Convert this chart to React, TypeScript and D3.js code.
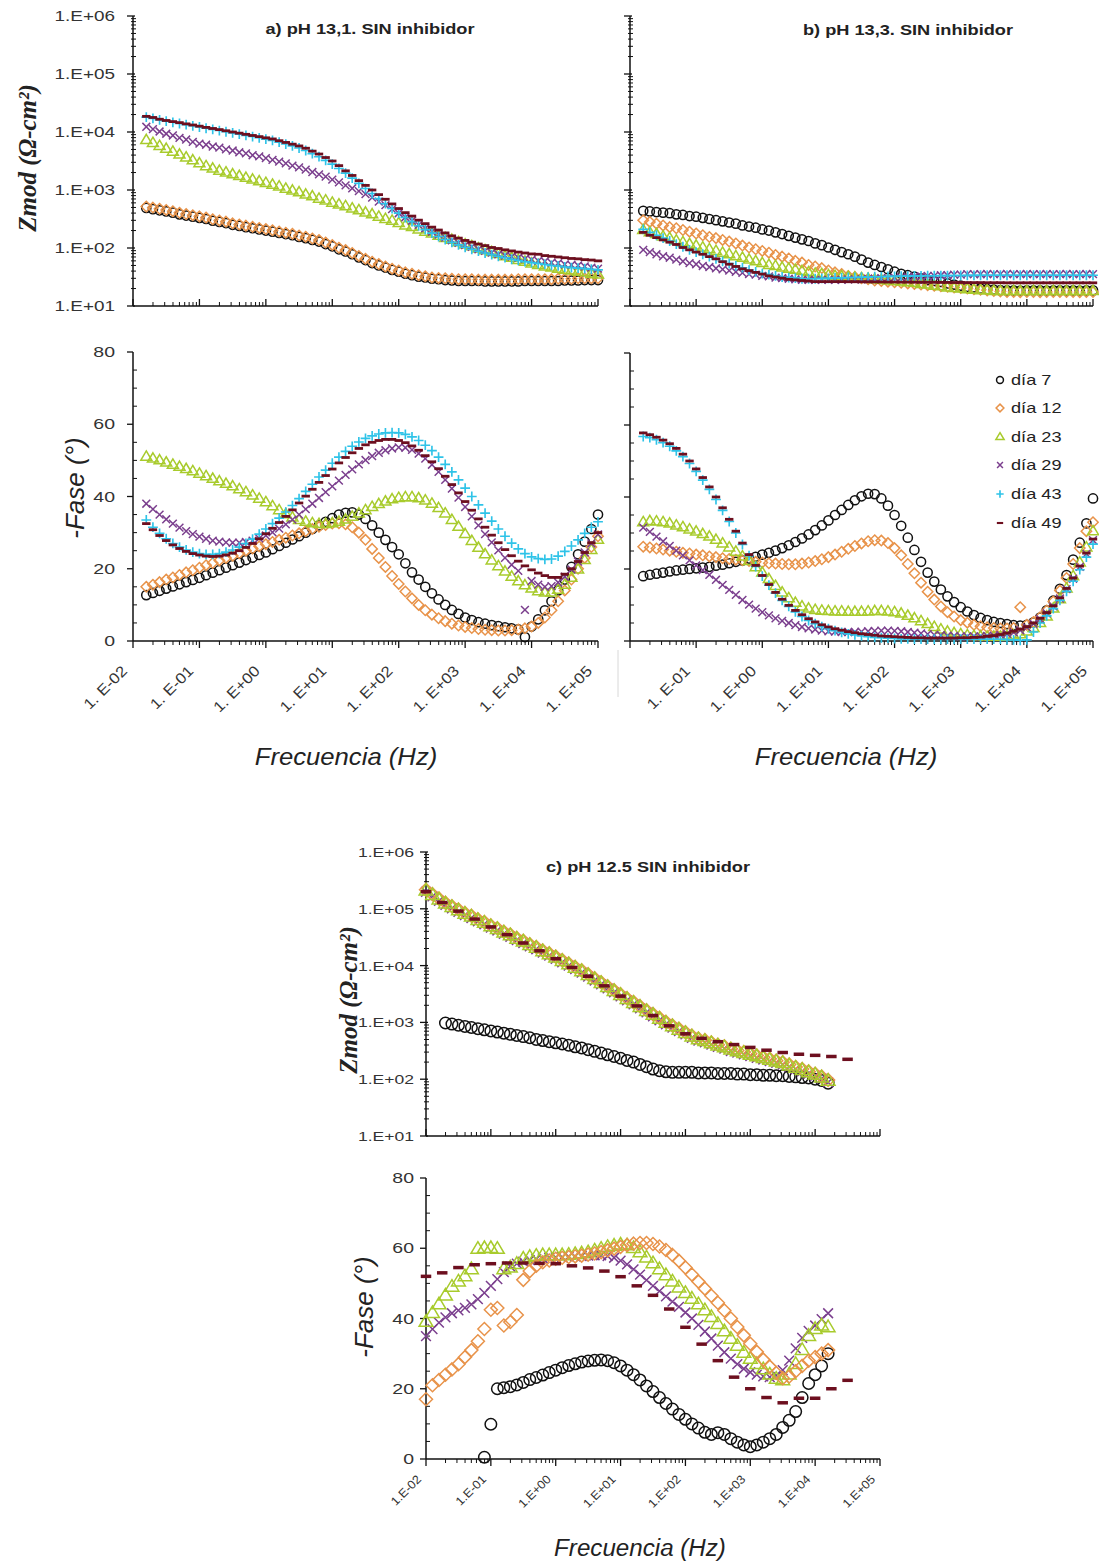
import React from "react";
import * as d3 from "d3";

// ---------------- frequency grids (log10 of frequency in Hz) ----------------
const logFreqAB = [
  -1.8, -1.7, -1.6, -1.5, -1.4, -1.3, -1.2, -1.1, -1.0, -0.9,
  -0.8, -0.7, -0.6, -0.5, -0.4, -0.3, -0.2, -0.1, 0.0, 0.1,
  0.2, 0.3, 0.4, 0.5, 0.6, 0.7, 0.8, 0.9, 1.0, 1.1,
  1.2, 1.3, 1.4, 1.5, 1.6, 1.7, 1.8, 1.9, 2.0, 2.1,
  2.2, 2.3, 2.4, 2.5, 2.6, 2.7, 2.8, 2.9, 3.0, 3.1,
  3.2, 3.3, 3.4, 3.5, 3.6, 3.7, 3.8, 3.9, 4.0, 4.1,
  4.2, 4.3, 4.4, 4.5, 4.6, 4.7, 4.8, 4.9, 5.0,
];
const logFreqC = [
  -2.0, -1.9, -1.8, -1.7, -1.6, -1.5, -1.4, -1.3, -1.2, -1.1,
  -1.0, -0.9, -0.8, -0.7, -0.6, -0.5, -0.4, -0.3, -0.2, -0.1,
  0.0, 0.1, 0.2, 0.3, 0.4, 0.5, 0.6, 0.7, 0.8, 0.9,
  1.0, 1.1, 1.2, 1.3, 1.4, 1.5, 1.6, 1.7, 1.8, 1.9,
  2.0, 2.1, 2.2, 2.3, 2.4, 2.5, 2.6, 2.7, 2.8, 2.9,
  3.0, 3.1, 3.2, 3.3, 3.4, 3.5, 3.6, 3.7, 3.8, 3.9,
  4.0, 4.1, 4.2, 4.3, 4.4, 4.5,
];
const logFreqC49 = [
  -2.0, -1.75, -1.5, -1.25, -1.0, -0.75, -0.5, -0.25, 0.0, 0.25,
  0.5, 0.75, 1.0, 1.25, 1.5, 1.75, 2.0, 2.25, 2.5, 2.75,
  3.0, 3.25, 3.5, 3.75, 4.0, 4.25, 4.5,
];

const days = ["día 7", "día 12", "día 23", "día 29", "día 43", "día 49"];

// ---------------- a) pH 13,1 : Zmod (ohm·cm2) ----------------
const zA7 = [
  490, 468, 447, 427, 407, 380, 363, 347, 331, 316,
  295, 282, 269, 251, 240, 229, 219, 209, 200, 191,
  182, 174, 166, 155, 148, 138, 129, 117, 107, 95,
  87, 78, 69, 62, 55, 50, 46, 42, 39, 36,
  34, 32, 31, 29.5, 29, 28, 27.5, 27, 27, 27,
  27, 26.5, 26.5, 26.5, 26.5, 26.5, 26.5, 27, 27, 27,
  27, 27, 27, 27.5, 27.5, 27.5, 28, 28, 28,
];
const zA12 = [
  520, 497, 475, 453, 432, 404, 385, 368, 351, 335,
  313, 299, 285, 266, 254, 243, 232, 222, 212, 202,
  193, 184, 176, 164, 157, 146, 137, 124, 113, 101,
  92, 82, 73, 65, 58, 53, 48, 44, 41, 38,
  36, 34, 32.5, 31, 30.5, 30, 29.5, 29, 29, 29,
  28.5, 28.5, 28.5, 28.5, 28.5, 28.5, 29, 29, 29, 29,
  29, 29, 29.5, 29.5, 29.5, 30, 30, 30, 30,
];
const zA23 = [
  7240, 6460, 5750, 5130, 4570, 4070, 3630, 3240, 2880, 2570,
  2340, 2140, 2000, 1860, 1740, 1620, 1510, 1410, 1320, 1230,
  1150, 1050, 977, 912, 832, 776, 708, 661, 603, 562,
  525, 479, 447, 407, 380, 347, 316, 295, 269, 245,
  229, 209, 191, 178, 162, 148, 138, 126, 115, 107,
  98, 91, 85, 79, 72, 68, 62, 58, 54, 51,
  48, 46, 44, 42, 41, 39, 38, 36, 35,
];
const zA29 = [
  12300, 11200, 10200, 9330, 8710, 7940, 7410, 6760, 6310, 6030,
  5620, 5370, 5010, 4790, 4470, 4270, 3980, 3800, 3550, 3310,
  3090, 2880, 2630, 2450, 2240, 2040, 1860, 1700, 1510, 1350,
  1200, 1070, 955, 851, 741, 631, 550, 468, 398, 339,
  295, 251, 219, 191, 170, 151, 135, 123, 112, 105,
  95, 89, 83, 78, 74, 71, 68, 65, 63, 60,
  59, 56, 55, 52, 51, 50, 48, 46, 44,
];
const zA43 = [
  18000, 17200, 16200, 15400, 14700, 14000, 13400, 12800, 12200, 11600,
  11100, 10600, 10100, 9650, 9200, 8750, 8350, 7950, 7550, 7150,
  6700, 6200, 5750, 5300, 4800, 4250, 3750, 3250, 2800, 2350,
  1950, 1600, 1300, 1060, 870, 710, 580, 480, 400, 335,
  285, 242, 208, 180, 158, 140, 125, 113, 103, 95,
  88, 82, 77, 72, 68, 64, 61, 58, 56, 54,
  52, 50, 49, 47, 46, 45, 44, 43, 42,
];
const zA49 = [
  18600, 17800, 16600, 15800, 15100, 14500, 13800, 13200, 12600, 12000,
  11500, 11000, 10500, 10000, 9550, 9120, 8710, 8320, 7940, 7590,
  7080, 6610, 6170, 5750, 5250, 4680, 4170, 3630, 3160, 2630,
  2140, 1780, 1450, 1200, 1000, 832, 692, 575, 479, 407,
  355, 302, 263, 229, 204, 182, 162, 148, 135, 126,
  117, 110, 102, 98, 93, 89, 85, 82, 79, 78,
  74, 72, 70, 68, 66, 65, 63, 62, 60,
];

// ---------------- a) pH 13,1 : -Fase (deg) ----------------
const pA7 = [
  12.7, 13.3, 13.9, 14.5, 15.1, 15.7, 16.3, 16.9, 17.5, 18.2,
  18.9, 19.6, 20.3, 21.0, 21.7, 22.4, 23.1, 23.8, 24.5, 25.4,
  26.3, 27.2, 28.1, 29.0, 30.0, 31.0, 32.0, 33.0, 34.0, 35.0,
  35.5, 35.6, 35.0, 33.8, 32.0, 30.0, 28.0, 26.0, 24.0, 21.5,
  19.0, 17.0, 15.0, 13.2, 11.5, 10.0, 8.6, 7.5, 6.5, 5.8,
  5.2, 4.8, 4.4, 4.1, 3.8, 3.5, 3.2, 1.1, 4.0, 6.0,
  8.5, 11.0, 14.0, 17.0, 20.5, 24.0, 27.5, 31.0, 35.0,
];
const pA12 = [
  15.0, 15.6, 16.3, 17.0, 17.6, 18.3, 19.0, 19.6, 20.3, 21.0,
  21.6, 22.3, 23.0, 23.6, 24.3, 25.0, 25.6, 26.2, 26.8, 27.4,
  28.0, 28.6, 29.2, 29.8, 30.4, 31.0, 31.6, 32.1, 32.5, 32.6,
  32.3, 31.5, 30.0, 28.0, 25.5, 23.0, 20.5, 18.0, 15.8, 13.7,
  11.8, 10.0, 8.5, 7.3, 6.3, 5.5, 4.8, 4.3, 3.9, 3.6,
  3.3, 3.1, 3.0, 2.9, 2.9, 3.0, 3.2, 3.5, 4.0, 5.0,
  6.5, 8.5, 11.0, 14.0, 17.0, 20.0, 23.0, 26.0, 29.0,
];
const pA23 = [
  51.0, 50.5, 50.0, 49.4, 48.8, 48.2, 47.6, 47.0, 46.3, 45.6,
  44.9, 44.2, 43.5, 42.8, 42.0, 41.2, 40.3, 39.4, 38.4, 37.3,
  36.2, 35.1, 34.2, 33.5, 33.0, 32.6, 32.4, 32.4, 32.6, 33.0,
  33.6, 34.4, 35.3, 36.2, 37.1, 37.9, 38.6, 39.2, 39.6, 39.8,
  39.8, 39.5, 38.9, 38.0, 36.8, 35.3, 33.5, 31.6, 29.6, 27.7,
  25.8, 24.0, 22.3, 20.7, 19.2, 17.8, 16.5, 15.4, 14.5, 13.8,
  13.4, 13.4, 14.2, 15.6, 17.5, 19.8, 22.4, 25.2, 28.0,
];
const pA29 = [
  38.0, 36.5, 35.0, 33.7, 32.5, 31.4, 30.4, 29.6, 28.9, 28.3,
  27.8, 27.5, 27.3, 27.2, 27.2, 27.4, 27.8, 28.4, 29.2, 30.1,
  31.1, 32.3, 33.6, 35.0, 36.5, 38.0, 39.6, 41.2, 42.8, 44.4,
  46.0, 47.5, 48.9, 50.1, 51.2, 52.1, 52.8, 53.3, 53.6, 53.5,
  52.9, 51.9, 50.5, 48.8, 46.8, 44.6, 42.2, 39.7, 37.1, 34.5,
  32.0, 29.6, 27.3, 25.1, 23.0, 21.1, 19.4, 8.6, 16.6, 15.6,
  15.0, 15.2, 16.2, 17.8, 19.8, 22.0, 24.5, 27.0, 29.5,
];
const pA43 = [
  33.5, 31.5, 29.8, 28.3, 27.0, 26.0, 25.2, 24.6, 24.2, 24.0,
  24.0, 24.2, 24.6, 25.2, 26.0, 27.0, 28.2, 29.6, 31.0, 32.5,
  34.0, 35.7, 37.5, 39.4, 41.4, 43.4, 45.4, 47.3, 49.2, 50.9,
  52.5, 53.9, 55.1, 56.1, 56.8, 57.3, 57.6, 57.7, 57.6, 57.2,
  56.5, 55.5, 54.2, 52.7, 50.9, 48.9, 46.8, 44.6, 42.3, 40.0,
  37.7, 35.4, 33.2, 31.0, 29.0, 27.1, 25.5, 24.2, 23.3, 22.8,
  22.6, 22.7, 23.5, 24.8, 26.3, 28.0, 29.8, 31.5, 33.0,
];
const pA49 = [
  32.5, 30.8, 29.2, 27.8, 26.6, 25.6, 24.8, 24.2, 23.8, 23.5,
  23.4, 23.5, 23.8, 24.3, 25.0, 25.9, 27.0, 28.3, 29.7, 31.2,
  32.8, 34.5, 36.3, 38.2, 40.1, 42.0, 43.9, 45.8, 47.6, 49.3,
  50.8, 52.1, 53.3, 54.3, 55.0, 55.5, 55.8, 55.8, 55.5, 54.9,
  54.0, 52.8, 51.3, 49.6, 47.7, 45.6, 43.3, 41.0, 38.6, 36.2,
  33.8, 31.5, 29.3, 27.2, 25.3, 23.6, 22.1, 20.8, 19.7, 18.8,
  18.1, 17.6, 17.6, 18.5, 20.0, 22.0, 24.5, 27.2, 30.0,
];

// ---------------- b) pH 13,3 : Zmod ----------------
const zB7 = [
  437, 427, 417, 407, 398, 380, 372, 355, 347, 331,
  316, 302, 288, 275, 263, 245, 234, 224, 209, 200,
  186, 174, 162, 151, 141, 132, 120, 112, 102, 93,
  85, 78, 71, 63, 56, 51, 47, 43, 39, 36,
  34, 32, 30, 28, 27, 26, 24.5, 23.4, 22.4, 21.4,
  20.9, 20, 19.5, 19.1, 18.8, 18.6, 18.6, 18.5, 18.6, 18.7,
  18.6, 18.5, 18.6, 18.7, 18.6, 18.6, 18.5, 18.6, 18.6,
];
const zB12 = [
  302, 282, 263, 245, 229, 219, 204, 191, 178, 166,
  155, 148, 138, 129, 120, 110, 102, 95, 89, 83,
  76, 71, 66, 60, 56, 51, 48, 45, 41, 38,
  35.5, 33, 31.6, 30.2, 28.8, 27.5, 26.9, 26.3, 25.7, 25.1,
  24.5, 24, 23.4, 22.9, 22.4, 21.9, 21.4, 20.9, 20.4, 20,
  19.5, 19.1, 18.6, 18.2, 17.8, 17.4, 17.4, 17.3, 17.4, 17.4,
  17.3, 17.4, 17.4, 17.5, 17.4, 17.4, 17.3, 17.4, 17.4,
];
const zB23 = [
  204, 186, 174, 158, 148, 135, 126, 117, 110, 102,
  95, 89, 83, 78, 72, 68, 63, 59, 55, 51,
  49, 46, 44, 42, 40, 38, 36, 35.5, 34, 33,
  32.4, 31.6, 30.9, 30.2, 29.5, 28.8, 28.2, 27.5, 26.9, 26.3,
  25.7, 25.1, 24, 23.4, 22.4, 21.9, 20.9, 20.4, 20, 19.5,
  19.1, 18.6, 18.6, 18.2, 18.2, 18.2, 18.2, 18.1, 18.2, 18.2,
  18.2, 18.1, 18.2, 18.2, 18.2, 18.1, 18.2, 18.2, 18.2,
];
const zB29 = [
  93, 85, 78, 72, 68, 63, 59, 55, 52.5, 49,
  47, 44.7, 42.7, 40.7, 38.9, 37.2, 35.5, 34.7, 33.1, 32.4,
  30.9, 30.2, 29.5, 28.8, 28.2, 28.2, 28.2, 28.2, 28.2, 28.2,
  28.2, 28.8, 28.8, 28.8, 29.5, 29.5, 30.2, 30.2, 30.9, 30.9,
  31.6, 32.4, 32.4, 33.1, 33.1, 33.9, 33.9, 34.7, 34.7, 35.5,
  35.5, 35.3, 35.6, 35.4, 35.5, 35.7, 35.4, 35.5, 35.6, 35.4,
  35.5, 35.6, 35.4, 35.5, 35.7, 35.5, 35.4, 35.6, 35.5,
];
const zB43 = [
  209, 186, 166, 148, 132, 117, 105, 93, 85, 78,
  71, 65, 59, 54, 49, 45.7, 41.7, 38.9, 36.3, 34.7,
  33.1, 31.6, 30.9, 30.2, 29.5, 29.5, 29.5, 30, 30, 30.5,
  30.5, 31, 31, 31.5, 31.5, 32, 32, 32.4, 32.4, 32.7,
  32.7, 33, 33, 33.2, 33.2, 33.4, 33.4, 33.6, 33.6, 33.8,
  33.8, 33.9, 33.9, 33.9, 33.9, 33.9, 33.9, 33.9, 33.9, 33.9,
  33.9, 33.9, 33.9, 33.9, 33.9, 33.9, 33.9, 33.9, 33.9,
];
const zB49 = [
  186, 166, 151, 138, 126, 115, 102, 93, 85, 78,
  71, 65, 58, 52.5, 48, 43.7, 40.7, 38, 35.5, 33.1,
  31.6, 30.2, 28.8, 28.2, 27.5, 26.9, 26.3, 26.3, 26.3, 26.3,
  26.3, 26.2, 26.2, 26.1, 26.1, 26, 26, 25.9, 25.9, 25.8,
  25.8, 25.7, 25.7, 25.6, 25.6, 25.5, 25.5, 25.4, 25.4, 25.3,
  25.3, 25.3, 25.2, 25.2, 25.2, 25.1, 25.1, 25.1, 25.1, 25.1,
  25.1, 25.1, 25.1, 25.1, 25.1, 25.1, 25.1, 25.1, 25.1,
];

// ---------------- b) pH 13,3 : -Fase ----------------
const pB7 = [
  18.0, 18.4, 18.7, 19.0, 19.3, 19.6, 19.8, 20.0, 20.2, 20.4,
  20.6, 20.9, 21.2, 21.6, 22.0, 22.4, 22.9, 23.4, 24.0, 24.5,
  25.1, 25.8, 26.6, 27.5, 28.5, 29.6, 30.8, 32.1, 33.5, 35.0,
  36.4, 37.8, 39.1, 40.2, 40.9, 40.8, 39.6, 37.6, 35.0, 32.0,
  28.7, 25.3, 22.0, 19.0, 16.5, 14.3, 12.4, 10.8, 9.4, 8.2,
  7.2, 6.4, 5.8, 5.3, 5.0, 4.7, 4.4, 4.3, 4.5, 5.2,
  6.5, 8.5, 11.2, 14.5, 18.3, 22.6, 27.3, 32.7, 39.6,
];
const pB12 = [
  26.2, 26.0, 25.7, 25.4, 25.1, 24.8, 24.5, 24.3, 24.0, 23.8,
  23.5, 23.3, 23.0, 22.8, 22.6, 22.4, 22.2, 22.0, 21.8, 21.6,
  21.5, 21.4, 21.3, 21.3, 21.5, 21.8, 22.2, 22.7, 23.3, 24.0,
  24.8, 25.6, 26.4, 27.1, 27.7, 28.0, 27.9, 27.2, 25.8, 23.8,
  21.4, 18.8, 16.2, 13.7, 11.5, 9.6, 8.0, 6.8, 5.8, 5.1,
  4.5, 4.1, 3.8, 3.6, 3.5, 3.5, 3.6, 9.4, 4.5, 5.3,
  6.6, 8.5, 11.0, 14.0, 17.5, 21.4, 25.8, 30.5, 33.0,
];
const pB23 = [
  33.0, 33.3, 33.2, 33.0, 32.6, 32.1, 31.6, 31.0, 30.4, 29.7,
  29.0, 28.1, 27.1, 26.0, 24.8, 23.5, 22.2, 20.5, 19.0, 17.2,
  15.3, 13.5, 11.9, 10.6, 9.6, 9.0, 8.6, 8.4, 8.3, 8.2,
  8.2, 8.1, 8.1, 8.1, 8.2, 8.3, 8.3, 8.2, 8.0, 7.6,
  7.0, 6.3, 5.5, 4.7, 3.9, 3.2, 2.6, 2.2, 1.9, 1.6,
  1.4, 1.3, 1.2, 1.2, 1.2, 1.3, 1.5, 1.9, 2.6, 3.6,
  5.0, 6.8, 9.0, 11.6, 14.6, 18.0, 21.8, 26.0, 30.5,
];
const pB29 = [
  31.5, 30.3, 29.0, 27.7, 26.4, 25.1, 23.8, 22.4, 21.0, 19.7,
  18.4, 17.0, 15.6, 14.2, 12.8, 11.4, 10.1, 9.0, 8.0, 7.1,
  6.3, 5.6, 5.0, 4.4, 3.9, 3.5, 3.2, 2.9, 2.7, 2.6,
  2.5, 2.5, 2.5, 2.6, 2.7, 2.8, 2.9, 2.9, 2.8, 2.7,
  2.5, 2.3, 2.1, 1.9, 1.7, 1.6, 1.5, 1.4, 1.3, 1.3,
  1.3, 1.3, 1.4, 1.5, 1.7, 2.0, 2.4, 3.0, 3.8, 4.8,
  6.1, 7.7, 9.6, 11.8, 14.4, 17.3, 20.6, 24.2, 28.0,
];
const pB43 = [
  56.8, 56.5, 55.9, 55.1, 54.1, 52.8, 51.2, 49.3, 47.1, 44.7,
  42.1, 39.3, 36.3, 33.2, 30.0, 26.8, 23.7, 20.7, 18.0, 15.5,
  13.3, 11.3, 9.6, 8.1, 6.8, 5.7, 4.8, 4.0, 3.4, 2.9,
  2.4, 2.0, 1.7, 1.4, 1.2, 1.0, 0.9, 0.8, 0.7, 0.6,
  0.6, 0.5, 0.5, 0.5, 0.5, 0.5, 0.5, 0.5, 0.5, 0.5,
  0.5, 0.5, 0.5, 0.5, 0.5, 0.4, 0.3, 0.2, 0.3, 2.5,
  5.0, 7.0, 9.0, 11.3, 13.8, 16.6, 19.8, 23.3, 26.9,
];
const pB49 = [
  57.8, 57.3, 56.6, 55.8, 54.8, 53.5, 51.9, 50.0, 47.8, 45.4,
  42.8, 40.0, 37.0, 33.8, 30.5, 27.2, 24.0, 21.0, 18.2, 15.7,
  13.5, 11.6, 9.9, 8.5, 7.3, 6.2, 5.3, 4.5, 3.9, 3.4,
  3.0, 2.6, 2.3, 2.0, 1.8, 1.6, 1.4, 1.3, 1.2, 1.1,
  1.0, 0.9, 0.9, 0.8, 0.8, 0.8, 0.8, 0.8, 0.9, 0.9,
  1.0, 1.1, 1.3, 1.5, 1.8, 2.2, 2.7, 3.3, 4.0, 5.0,
  6.3, 7.9, 9.8, 12.0, 14.6, 17.5, 20.8, 24.4, 28.3,
];

// ---------------- c) pH 12.5 : Zmod ----------------
const zC7 = [
  null, null, null, 977, 933, 891, 851, 813, 776, 741,
  708, 676, 646, 617, 589, 562, 537, 501, 479, 457,
  437, 417, 398, 372, 355, 331, 309, 288, 269, 251,
  234, 214, 200, 182, 166, 151, 141, 135, 132, 132,
  132, 132, 129, 129, 129, 126, 126, 126, 123, 123,
  120, 120, 117, 117, 115, 115, 112, 110, 107, 105,
  100, 95, 85, null, null, null,
];
const zC12 = [
  216000, 181000, 151000, 128000, 111000, 97000, 84500, 75300, 65600, 58400,
  51000, 45400, 39500, 35300, 30700, 27400, 23800, 21200, 18500, 16400,
  14400, 12500, 10900, 9480, 8260, 7030, 5980, 5100, 4340, 3690,
  3140, 2670, 2280, 1930, 1640, 1400, 1200, 1020, 885, 770,
  672, 584, 521, 487, 444, 405, 378, 344, 321, 300,
  280, 261, 243, 228, 212, 199, 181, 164, 151, 137,
  125, 111, 97, null, null, null,
];
const zC23 = [
  209000, 174000, 145000, 123000, 107000, 93300, 81300, 72400, 63100, 56200,
  49000, 43700, 38000, 33900, 29500, 26300, 22900, 20400, 17800, 15800,
  13800, 12000, 10500, 9120, 7940, 6760, 5750, 4900, 4170, 3550,
  3020, 2570, 2190, 1860, 1580, 1350, 1150, 977, 851, 741,
  646, 562, 501, 468, 427, 389, 363, 331, 309, 288,
  269, 251, 234, 219, 204, 191, 174, 158, 145, 132,
  120, 107, 93, null, null, null,
];
const zC29 = [
  199000, 165000, 138000, 117000, 102000, 88600, 77200, 68800, 59900, 53400,
  46600, 41500, 36100, 32200, 28000, 25000, 21800, 19400, 16900, 15000,
  13100, 11400, 9980, 8660, 7540, 6420, 5460, 4660, 3960, 3370,
  2870, 2440, 2080, 1770, 1500, 1280, 1090, 928, 808, 704,
  614, 534, 476, 445, 406, 370, 345, 314, 294, 274,
  256, 238, 222, 208, 194, 181, 165, 150, 138, 125,
  114, 102, 88, null, null, null,
];
const zC49 = [
  200000, 129000, 91000, 66000, 48000, 35000, 25000, 18200, 13200, 9300,
  6500, 4400, 2900, 1950, 1320, 870, 630, 525, 457, 407,
  363, 324, 295, 275, 263, 251, 224,
];

// ---------------- c) pH 12.5 : -Fase ----------------
const pC7 = [
  null, null, null, null, null, null, null, null, null, 0.5,
  9.9, 20.0, 20.3, 20.6, 21.1, 21.8, 22.6, 23.2, 23.9, 24.6,
  25.3, 26.0, 26.6, 27.1, 27.6, 27.9, 28.1, 28.2, 28.0, 27.4,
  26.5, 25.3, 24.0, 22.5, 20.8, 19.2, 17.5, 15.8, 14.2, 12.7,
  11.3, 10.0, 8.8, 7.6, 7.0, 7.5, 7.0, 5.8, 4.8, 4.0,
  3.5, 4.0, 4.8, 5.8, 7.0, 9.0, 11.0, 13.5, 17.5, 21.5,
  24.0, 26.5, 30.0, null, null, null,
];
const pC12 = [
  17.0, 21.0, 22.5, 24.0, 25.5, 27.0, 29.0, 31.0, 33.5, 37.0,
  42.5, 43.0, 38.0, 39.0, 41.0, 51.0, 53.5, 55.0, 56.0, 56.5,
  57.0, 57.3, 57.5, 57.7, 57.9, 58.2, 58.5, 58.9, 59.4, 59.9,
  60.4, 60.9, 61.3, 61.5, 61.5, 61.2, 60.5, 59.5, 58.1, 56.4,
  54.5, 52.5, 50.5, 48.5, 46.5, 44.5, 42.3, 40.0, 37.6, 35.2,
  32.8, 30.5, 28.3, 26.3, 24.5, 23.0, 23.5, 25.0, 26.5, 28.0,
  29.0, 30.0, 31.0, null, null, null,
];
const pC23 = [
  39.0, 41.5, 44.0, 46.5, 49.0, 50.5, 52.0, 54.0, 59.8, 60.0,
  60.0, 59.8, 54.0, 54.5, 55.5, 57.0, 57.5, 57.8, 58.0, 58.0,
  58.0, 58.0, 58.1, 58.3, 58.5, 58.8, 59.3, 59.8, 60.3, 60.7,
  61.0, 60.8, 60.0, 58.8, 57.3, 55.7, 54.0, 52.3, 50.5, 48.8,
  47.2, 45.6, 44.0, 42.3, 40.4, 38.4, 36.3, 34.2, 32.2, 30.2,
  28.5, 27.0, 25.5, 24.0, 22.8, 22.4, 24.0, 27.0, 31.0, 35.0,
  37.0, 38.0, 37.5, null, null, null,
];
const pC29 = [
  35.0, 37.0, 38.8, 40.3, 41.5, 42.3, 43.0, 44.0, 45.5, 47.3,
  49.3, 51.2, 53.2, 54.8, 55.6, 56.2, 56.6, 56.9, 57.1, 57.3,
  57.4, 57.5, 57.6, 57.7, 57.8, 57.9, 58.0, 58.0, 57.8, 57.3,
  56.5, 55.4, 54.0, 52.5, 50.9, 49.3, 47.8, 46.3, 44.8, 43.3,
  41.7, 40.0, 38.2, 36.3, 34.3, 32.3, 30.4, 28.6, 27.0, 25.7,
  24.7, 24.0, 23.5, 23.3, 23.8, 25.3, 28.0, 31.5, 34.5, 36.5,
  38.0, 39.8, 41.5, null, null, null,
];
const pC49 = [
  52.0, 53.0, 54.5, 55.3, 55.6, 55.8, 55.8, 55.7, 55.6, 55.0,
  54.4, 53.5, 51.9, 49.3, 46.6, 42.7, 37.5, 32.7, 28.0, 23.3,
  20.0, 17.5, 16.0, 17.3, 17.3, 20.0, 22.4,
];

// ---------------- styling ----------------
const markerKinds = ["circle", "diamond", "triangle", "x", "plus", "dash"];
const markerColors = ["#111111", "#E8934A", "#A8CB2C", "#7B3F8E", "#2EC3E8", "#6D0F1F"];
const FONT = "'Liberation Sans', Arial, Helvetica, sans-serif";
const SERIF = "'Liberation Serif', 'Times New Roman', serif";

type Ser = { day: number; logf: number[]; vals: (number | null)[] };

function Marker({ kind, color, x, y, s }: { kind: string; color: string; x: number; y: number; s: number }) {
  const sw = 1.5;
  if (kind === "circle") return <circle cx={x} cy={y} r={4.6 * s} fill="none" stroke={color} strokeWidth={sw} />;
  if (kind === "diamond") {
    const r = 5.2 * s;
    return <path d={`M${x},${y - r}L${x + r},${y}L${x},${y + r}L${x - r},${y}Z`} fill="none" stroke={color} strokeWidth={sw} />;
  }
  if (kind === "triangle") {
    const r = 5.8 * s;
    return <path d={`M${x},${y - r}L${x + r * 0.95},${y + r * 0.6}L${x - r * 0.95},${y + r * 0.6}Z`} fill="none" stroke={color} strokeWidth={sw} />;
  }
  if (kind === "x") {
    const r = 3.9 * s;
    return <path d={`M${x - r},${y - r}L${x + r},${y + r}M${x - r},${y + r}L${x + r},${y - r}`} stroke={color} strokeWidth={sw} />;
  }
  if (kind === "plus") {
    const r = 4.9 * s;
    return <path d={`M${x - r},${y}L${x + r},${y}M${x},${y - r}L${x},${y + r}`} stroke={color} strokeWidth={sw * 1.1} />;
  }
  const r = 4.2 * s;
  return <path d={`M${x - r},${y}L${x + r},${y}`} stroke={color} strokeWidth={2.8 * s} />;
}

function SText(p: any) {
  const { x, y, sx = 1, rot = 0, anchor = "start", size, weight = "normal", italic = false, family = FONT, fill = "#222", children } = p;
  return (
    <text
      transform={`translate(${x},${y}) rotate(${rot}) scale(${sx},1)`}
      textAnchor={anchor}
      fontSize={size}
      fontWeight={weight}
      fontStyle={italic ? "italic" : "normal"}
      fontFamily={family}
      fill={fill}
    >
      {children}
    </text>
  );
}

type Layout = { x0: number; x1: number; zTop: number; zBot: number; pTop: number; pBot: number };

const decadesX = [-2, -1, 0, 1, 2, 3, 4, 5];

function xTicks(x: any, yAxis: number, dir: number, key: string) {
  const out: any[] = [];
  decadesX.forEach((d) => {
    const px = x(Math.pow(10, d));
    out.push(<line key={`${key}M${d}`} x1={px} x2={px} y1={yAxis} y2={yAxis + dir * 7} stroke="#111" strokeWidth={1.3} />);
    if (d < 5) {
      for (let m = 2; m <= 9; m++) {
        const mx = x(m * Math.pow(10, d));
        out.push(<line key={`${key}m${d}_${m}`} x1={mx} x2={mx} y1={yAxis} y2={yAxis + dir * 4} stroke="#111" strokeWidth={1} />);
      }
    }
  });
  return out;
}

function seriesMarks(series: Ser[], x: any, y: any, s: number, key: string) {
  const out: any[] = [];
  series.forEach((se) => {
    se.vals.forEach((v, i) => {
      if (v === null || v === undefined) return;
      out.push(
        <Marker key={`${key}_${se.day}_${i}`} kind={markerKinds[se.day]} color={markerColors[se.day]} x={x(Math.pow(10, se.logf[i]))} y={y(v)} s={s} />
      );
    });
  });
  return out;
}

function Panel({ L, zSer, pSer, yLabels, xLabelKind, ms, title, titleX, titleY, big }: any) {
  const x = d3.scaleLog().domain([1e-2, 1e5]).range([L.x0, L.x1]);
  const yz = d3.scaleLog().domain([10, 1e6]).range([L.zBot, L.zTop]);
  const yp = d3.scaleLinear().domain([0, 80]).range([L.pBot, L.pTop]);
  const els: any[] = [];
  // ---- Zmod plot axes ----
  els.push(<line key="zy" x1={L.x0} x2={L.x0} y1={L.zTop} y2={L.zBot} stroke="#111" strokeWidth={1.5} />);
  els.push(<line key="zx" x1={L.x0} x2={L.x1} y1={L.zBot} y2={L.zBot} stroke="#111" strokeWidth={1.5} />);
  for (let d = 1; d <= 6; d++) {
    const py = yz(Math.pow(10, d));
    els.push(<line key={`zyt${d}`} x1={L.x0 - 6} x2={L.x0 + 2} y1={py} y2={py} stroke="#111" strokeWidth={1.3} />);
    if (d < 6) {
      for (let m = 2; m <= 9; m++) {
        const my = yz(m * Math.pow(10, d));
        els.push(<line key={`zym${d}_${m}`} x1={L.x0 - 2} x2={L.x0 + 3} y1={my} y2={my} stroke="#111" strokeWidth={1} />);
      }
    }
    if (yLabels) {
      els.push(
        <SText key={`zyl${d}`} x={L.x0 - (big ? 18 : 12)} y={py + 5} anchor="end" size={big ? 14 : 13} sx={1.35} fill="#333">
          {`1.E+0${d}`}
        </SText>
      );
    }
  }
  els.push(...xTicks(x, L.zBot, -1, "zxt"));
  // ---- Phase plot axes ----
  els.push(<line key="py" x1={L.x0} x2={L.x0} y1={L.pTop} y2={L.pBot} stroke="#111" strokeWidth={1.5} />);
  els.push(<line key="px" x1={L.x0} x2={L.x1} y1={L.pBot} y2={L.pBot} stroke="#111" strokeWidth={1.5} />);
  for (let v = 0; v <= 80; v += 5) {
    const py = yp(v);
    if (v % 20 === 0) {
      els.push(<line key={`pyt${v}`} x1={L.x0 - 6} x2={L.x0} y1={py} y2={py} stroke="#111" strokeWidth={1.3} />);
      if (yLabels) {
        els.push(
          <SText key={`pyl${v}`} x={L.x0 - (big ? 18 : 12)} y={py + 5} anchor="end" size={15} sx={1.3} fill="#333">
            {String(v)}
          </SText>
        );
      }
    } else {
      els.push(<line key={`pym${v}`} x1={L.x0} x2={L.x0 + 4} y1={py} y2={py} stroke="#111" strokeWidth={1} />);
    }
  }
  els.push(...xTicks(x, L.pBot, 1, "pxt"));
  decadesX.forEach((d) => {
    if (xLabelKind === "ab" && d === -2 && !yLabels) return;
    const px = x(Math.pow(10, d));
    const exp = `${d < 0 ? "-" : "+"}${String(Math.abs(d)).padStart(2, "0")}`;
    if (xLabelKind === "ab") {
      els.push(
        <SText key={`pxl${d}`} x={px - 5} y={L.pBot + 31} rot={-45} anchor="end" size={15} sx={1.12} fill="#333">
          {`1. E${exp}`}
        </SText>
      );
    } else {
      els.push(
        <SText key={`pxl${d}`} x={px - 4} y={L.pBot + 21} rot={-45} anchor="end" size={12} sx={1.05} fill="#333">
          {`1.E${exp}`}
        </SText>
      );
    }
  });
  // title
  els.push(
    <SText key="title" x={titleX} y={titleY} anchor="middle" size={14} sx={1.3} weight="bold" fill="#222">
      {title}
    </SText>
  );
  // data
  els.push(...seriesMarks(zSer, x, yz, ms, "z"));
  els.push(...seriesMarks(pSer, x, yp, ms, "p"));
  return <g>{els}</g>;
}

const LA: Layout = { x0: 133, x1: 598, zTop: 16, zBot: 306, pTop: 352, pBot: 641 };
const LB: Layout = { x0: 630, x1: 1093, zTop: 16, zBot: 306, pTop: 353, pBot: 641 };
const LC: Layout = { x0: 426, x1: 880, zTop: 852, zBot: 1136, pTop: 1178, pBot: 1459 };

export default function App() {
  const mk = (arrs: (number | null)[][], logf: number[]): Ser[] => arrs.map((a, i) => ({ day: i, logf, vals: a }));
  const zA = mk([zA7, zA12, zA23, zA29, zA43, zA49], logFreqAB);
  const pA = mk([pA7, pA12, pA23, pA29, pA43, pA49], logFreqAB);
  const zB = mk([zB7, zB12, zB23, zB29, zB43, zB49], logFreqAB);
  const pB = mk([pB7, pB12, pB23, pB29, pB43, pB49], logFreqAB);
  const zC: Ser[] = [
    { day: 0, logf: logFreqC, vals: zC7 },
    { day: 3, logf: logFreqC, vals: zC29 },
    { day: 1, logf: logFreqC, vals: zC12 },
    { day: 2, logf: logFreqC, vals: zC23 },
    { day: 5, logf: logFreqC49, vals: zC49 },
  ];
  const pC: Ser[] = [
    { day: 0, logf: logFreqC, vals: pC7 },
    { day: 3, logf: logFreqC, vals: pC29 },
    { day: 2, logf: logFreqC, vals: pC23 },
    { day: 1, logf: logFreqC, vals: pC12 },
    { day: 5, logf: logFreqC49, vals: pC49 },
  ];
  const legendY = [380, 408, 437, 465, 494, 523];
  return (
    <svg width={1099} height={1568} style={{ position: "absolute", left: 0, top: 0, background: "#fff" }}>
      <rect x={0} y={0} width={1099} height={1568} fill="#fff" />
      <Panel L={LA} zSer={zA} pSer={pA} yLabels={true} xLabelKind="ab" ms={1} big={true}
        title="a) pH 13,1.  SIN inhibidor" titleX={370} titleY={34} />
      <Panel L={LB} zSer={zB} pSer={pB} yLabels={false} xLabelKind="ab" ms={1} big={true}
        title="b) pH 13,3.  SIN inhibidor" titleX={908} titleY={35} />
      <Panel L={LC} zSer={zC} pSer={pC} yLabels={true} xLabelKind="c" ms={1.25} big={false}
        title="c) pH 12.5 SIN inhibidor" titleX={648} titleY={872} />
      {/* faint collage border */}
      <line x1={618} x2={618} y1={650} y2={697} stroke="#d8d8d8" strokeWidth={1} />
      {/* axis titles */}
      <SText x={36} y={158} rot={-90} anchor="middle" size={25} weight="bold" italic family={SERIF} fill="#222">
        Zmod (Ω-cm²)
      </SText>
      <SText x={84} y={488} rot={-90} anchor="middle" size={26} italic fill="#222">
        -Fase (°)
      </SText>
      <SText x={357} y={1000} rot={-90} anchor="middle" size={25} weight="bold" italic family={SERIF} fill="#222">
        Zmod (Ω-cm²)
      </SText>
      <SText x={373} y={1307} rot={-90} anchor="middle" size={26} italic fill="#222">
        -Fase (°)
      </SText>
      <SText x={346} y={765} anchor="middle" size={24} sx={1.07} italic fill="#222">Frecuencia (Hz)</SText>
      <SText x={846} y={765} anchor="middle" size={24} sx={1.07} italic fill="#222">Frecuencia (Hz)</SText>
      <SText x={640} y={1556} anchor="middle" size={23} sx={1.05} italic fill="#222">Frecuencia (Hz)</SText>
      {/* legend */}
      {days.map((d, i) => (
        <g key={`lg${i}`}>
          <Marker kind={markerKinds[i]} color={markerColors[i]} x={1000} y={legendY[i]} s={0.75} />
          <SText x={1011} y={legendY[i] + 5} size={14} sx={1.3} fill="#222">{d}</SText>
        </g>
      ))}
    </svg>
  );
}
